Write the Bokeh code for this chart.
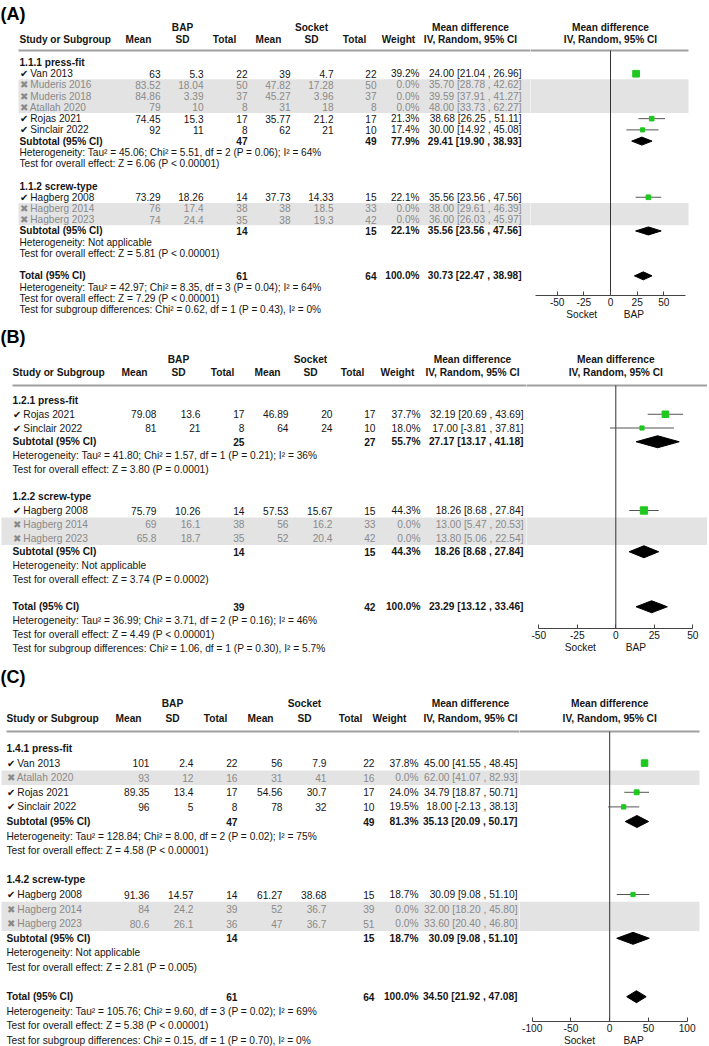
from bokeh.plotting import figure
from bokeh.layouts import column, row
from bokeh.models import Range1d, FixedTicker, LinearAxis
from bokeh.embed import file_html
from bokeh.resources import INLINE
from bokeh.core.properties import value

FONT = "Liberation Sans"

# ---------------- Panel A data ----------------
A_group_names = ["1.1.1 press-fit", "1.1.2 screw-type"]
A_studies = ["Van 2013", "Muderis 2016", "Muderis 2018", "Atallah 2020", "Rojas 2021",
             "Sinclair 2022", "Hagberg 2008", "Hagberg 2014", "Hagberg 2023"]
A_group = [0, 0, 0, 0, 0, 0, 1, 1, 1]
A_included = [True, False, False, False, True, True, True, False, False]
A_bap_mean = [63, 83.52, 84.86, 79, 74.45, 92, 73.29, 76, 74]
A_bap_sd = [5.3, 18.04, 3.39, 10, 15.3, 11, 18.26, 17.4, 24.4]
A_bap_n = [22, 50, 37, 8, 17, 8, 14, 38, 35]
A_sock_mean = [39, 47.82, 45.27, 31, 35.77, 62, 37.73, 38, 38]
A_sock_sd = [4.7, 17.28, 3.96, 18, 21.2, 21, 14.33, 18.5, 19.3]
A_sock_n = [22, 50, 37, 8, 17, 10, 15, 33, 42]
A_weight = [39.2, 0.0, 0.0, 0.0, 21.3, 17.4, 22.1, 0.0, 0.0]
A_md = [24.00, 35.70, 39.59, 48.00, 38.68, 30.00, 35.56, 38.00, 36.00]
A_lo = [21.04, 28.78, 37.91, 33.73, 26.25, 14.92, 23.56, 29.61, 26.03]
A_hi = [26.96, 42.62, 41.27, 62.27, 51.11, 45.08, 47.56, 46.39, 45.97]
A_sub_bap_n = [47, 14]
A_sub_sock_n = [49, 15]
A_sub_weight = [77.9, 22.1]
A_sub_md = [29.41, 35.56]
A_sub_lo = [19.90, 23.56]
A_sub_hi = [38.93, 47.56]
A_sub_het = ["Tau² = 45.06; Chi² = 5.51, df = 2 (P = 0.06); I² = 64%", "Not applicable"]
A_sub_z = ["Z = 6.06 (P < 0.00001)", "Z = 5.81 (P < 0.00001)"]
A_tot_n = [61, 64]
A_tot_weight = 100.0
A_tot_md = 30.73
A_tot_lo = 22.47
A_tot_hi = 38.98
A_tot_het = "Tau² = 42.97; Chi² = 8.35, df = 3 (P = 0.04); I² = 64%"
A_tot_z = "Z = 7.29 (P < 0.00001)"
A_subgroup_test = "Chi² = 0.62, df = 1 (P = 0.43), I² = 0%"
A_ticks = [-50, -25, 0, 25, 50]

# ---------------- Panel B data ----------------
B_group_names = ["1.2.1 press-fit", "1.2.2 screw-type"]
B_studies = ["Rojas 2021", "Sinclair 2022", "Hagberg 2008", "Hagberg 2014", "Hagberg 2023"]
B_group = [0, 0, 1, 1, 1]
B_included = [True, True, True, False, False]
B_bap_mean = [79.08, 81, 75.79, 69, 65.8]
B_bap_sd = [13.6, 21, 10.26, 16.1, 18.7]
B_bap_n = [17, 8, 14, 38, 35]
B_sock_mean = [46.89, 64, 57.53, 56, 52]
B_sock_sd = [20, 24, 15.67, 16.2, 20.4]
B_sock_n = [17, 10, 15, 33, 42]
B_weight = [37.7, 18.0, 44.3, 0.0, 0.0]
B_md = [32.19, 17.00, 18.26, 13.00, 13.80]
B_lo = [20.69, -3.81, 8.68, 5.47, 5.06]
B_hi = [43.69, 37.81, 27.84, 20.53, 22.54]
B_sub_bap_n = [25, 14]
B_sub_sock_n = [27, 15]
B_sub_weight = [55.7, 44.3]
B_sub_md = [27.17, 18.26]
B_sub_lo = [13.17, 8.68]
B_sub_hi = [41.18, 27.84]
B_sub_het = ["Tau² = 41.80; Chi² = 1.57, df = 1 (P = 0.21); I² = 36%", "Not applicable"]
B_sub_z = ["Z = 3.80 (P = 0.0001)", "Z = 3.74 (P = 0.0002)"]
B_tot_n = [39, 42]
B_tot_weight = 100.0
B_tot_md = 23.29
B_tot_lo = 13.12
B_tot_hi = 33.46
B_tot_het = "Tau² = 36.99; Chi² = 3.71, df = 2 (P = 0.16); I² = 46%"
B_tot_z = "Z = 4.49 (P < 0.00001)"
B_subgroup_test = "Chi² = 1.06, df = 1 (P = 0.30), I² = 5.7%"
B_ticks = [-50, -25, 0, 25, 50]

# ---------------- Panel C data ----------------
C_group_names = ["1.4.1 press-fit", "1.4.2 screw-type"]
C_studies = ["Van 2013", "Atallah 2020", "Rojas 2021", "Sinclair 2022",
             "Hagberg 2008", "Hagberg 2014", "Hagberg 2023"]
C_group = [0, 0, 0, 0, 1, 1, 1]
C_included = [True, False, True, True, True, False, False]
C_bap_mean = [101, 93, 89.35, 96, 91.36, 84, 80.6]
C_bap_sd = [2.4, 12, 13.4, 5, 14.57, 24.2, 26.1]
C_bap_n = [22, 16, 17, 8, 14, 39, 36]
C_sock_mean = [56, 31, 54.56, 78, 61.27, 52, 47]
C_sock_sd = [7.9, 41, 30.7, 32, 38.68, 36.7, 36.7]
C_sock_n = [22, 16, 17, 10, 15, 39, 51]
C_weight = [37.8, 0.0, 24.0, 19.5, 18.7, 0.0, 0.0]
C_md = [45.00, 62.00, 34.79, 18.00, 30.09, 32.00, 33.60]
C_lo = [41.55, 41.07, 18.87, -2.13, 9.08, 18.20, 20.40]
C_hi = [48.45, 82.93, 50.71, 38.13, 51.10, 45.80, 46.80]
C_sub_bap_n = [47, 14]
C_sub_sock_n = [49, 15]
C_sub_weight = [81.3, 18.7]
C_sub_md = [35.13, 30.09]
C_sub_lo = [20.09, 9.08]
C_sub_hi = [50.17, 51.10]
C_sub_het = ["Tau² = 128.84; Chi² = 8.00, df = 2 (P = 0.02); I² = 75%", "Not applicable"]
C_sub_z = ["Z = 4.58 (P < 0.00001)", "Z = 2.81 (P = 0.005)"]
C_tot_n = [61, 64]
C_tot_weight = 100.0
C_tot_md = 34.50
C_tot_lo = 21.92
C_tot_hi = 47.08
C_tot_het = "Tau² = 105.76; Chi² = 9.60, df = 3 (P = 0.02); I² = 69%"
C_tot_z = "Z = 5.38 (P < 0.00001)"
C_subgroup_test = "Chi² = 0.15, df = 1 (P = 0.70), I² = 0%"
C_ticks = [-100, -50, 0, 50, 100]


def bundle(label, P):
    g = globals()
    keys = ["group_names", "studies", "group", "included", "bap_mean", "bap_sd", "bap_n",
            "sock_mean", "sock_sd", "sock_n", "weight", "md", "lo", "hi", "sub_bap_n",
            "sub_sock_n", "sub_weight", "sub_md", "sub_lo", "sub_hi", "sub_het", "sub_z",
            "tot_n", "tot_weight", "tot_md", "tot_lo", "tot_hi", "tot_het", "tot_z",
            "subgroup_test", "ticks"]
    d = {k: g[P + "_" + k] for k in keys}
    d["label"] = label
    return d


PANELS = [bundle("(A)", "A"), bundle("(B)", "B"), bundle("(C)", "C")]

# ---------------- layout (reference-pixel geometry) ----------------
TOTAL_W = 707
SX = 1.0
SY = 1.0
GEOM = [
    dict(top=0, bottom=320, split=530, label_y=13, h1=27, h2=39, line_y=50, y0=62, pitch=11.23,
         left=19, line_x=(18, 688), band_x0=18, axis_y=295, zero=610, ppu=1.066,
         bounds=(-70, 70), sb=(-27, 22), hdr=[138, 182, 224, 268, 311, 354, 398],
         bap_x=182, sock_x=311, md_x=470, right=[160, 203, 247, 290, 333, 376, 419, 521],
         dh=4, fs="10.1px"),
    dict(top=320, bottom=655, split=526, label_y=334, h1=357, h2=370, line_y=383, y0=398,
         pitch=13.75, left=12, line_x=(12, 708), band_x0=1, axis_y=626, zero=615.3, ppu=1.54,
         bounds=(-50, 50), sb=(-23, 13), hdr=[134, 178, 222, 267, 310, 352, 397],
         bap_x=178, sock_x=310, md_x=472, right=[156, 200, 244, 288, 332, 375, 420, 523],
         dh=6, fs="10.2px"),
    dict(top=655, bottom=1044, split=519, label_y=674, h1=701, h2=716, line_y=729, y0=746,
         pitch=14.6, left=6, line_x=(6, 699), band_x0=1, axis_y=1019, zero=609.2, ppu=0.775,
         bounds=(-100, 100), sb=(-39, 31), hdr=[128, 172, 215, 260, 304, 350, 389],
         bap_x=172, sock_x=304, md_x=470, right=[149, 193, 237, 282, 326, 374, 418, 517],
         dh=6, fs="10.2px"),
]

TXT = "#151515"
GREY_TXT = "#8a8a8a"
BAND = "#e3e3e3"
RULE = "#a0a0a0"
GREEN = "#1ec81e"


def fmt(v):
    return f"{v:g}"


def ci(m, lo, hi):
    return f"{m:.2f} [{lo:.2f} , {hi:.2f}]"


def put(p, x, y, t, fs, align="left", bold=False, color=TXT):
    p.text(x=x, y=y, text=t, text_align=align, text_baseline="middle",
           text_font=value(FONT), text_font_size=fs,
           text_font_style="bold" if bold else "normal", text_color=color)


def rows_for(d, g):
    Y = lambda k: g["y0"] + k * g["pitch"]
    study_y = [0.0] * len(d["studies"])
    heads, subs, hets, tests = [], [], [], []
    k = 0
    for gi in range(2):
        heads.append(Y(k)); k += 1
        for i, gr in enumerate(d["group"]):
            if gr == gi:
                study_y[i] = Y(k); k += 1
        subs.append(Y(k)); hets.append(Y(k + 1)); tests.append(Y(k + 2)); k += 4
    tot = [Y(k), Y(k + 1), Y(k + 2), Y(k + 3)]
    return study_y, heads, subs, hets, tests, tot


def bands_for(d, study_y, pitch):
    out = []
    run = []
    for i, inc in enumerate(d["included"]):
        if not inc:
            run.append(study_y[i])
        if (inc or i == len(d["included"]) - 1) and run:
            out.append((min(run) - pitch / 2, max(run) + pitch / 2))
            run = []
    return out


def make_panel(d, g):
    fs = g["fs"]
    Wt = round(g["split"] * SX)
    Wf = TOTAL_W - Wt
    xs = Wt / SX
    Ht = round((g["bottom"] - g["top"]) * SY)
    fh = round((g["axis_y"] - g["top"]) * SY)
    axis_y = g["top"] + fh / SY
    study_y, heads, subs, hets, tests, tot = rows_for(d, g)
    bands = bands_for(d, study_y, g["pitch"])

    # ---------- table ----------
    t = figure(frame_width=Wt, frame_height=Ht, x_range=Range1d(0, xs),
               y_range=Range1d(g["top"] + Ht / SY, g["top"]),
               x_axis_location=None, y_axis_location=None, toolbar_location=None,
               output_backend="svg", min_border=0, outline_line_color=None)
    t.grid.visible = False
    for (b0, b1) in bands:
        t.quad(left=g["band_x0"], right=xs + 2, top=b0, bottom=b1, color=BAND, line_color=None)
    t.segment(x0=[g["line_x"][0]], x1=[xs + 2], y0=[g["line_y"]], y1=[g["line_y"]],
              line_color=RULE, line_width=2)
    t.text(x=[0], y=[g["label_y"]], text=[d["label"]], text_align="left",
           text_baseline="middle", text_font=value(FONT), text_font_size="18px",
           text_font_style="bold", text_color="#000000")
    put(t, [g["bap_x"], g["sock_x"], g["md_x"]], [g["h1"]] * 3,
        ["BAP", "Socket", "Mean difference"], fs, align="center", bold=True)
    put(t, [g["left"]], [g["h2"]], ["Study or Subgroup"], fs, bold=True)
    put(t, g["hdr"] + [g["md_x"]], [g["h2"]] * 8,
        ["Mean", "SD", "Total", "Mean", "SD", "Total", "Weight", "IV, Random, 95% CI"],
        fs, align="center", bold=True)
    put(t, [g["left"]] * 2, heads, d["group_names"], fs, bold=True)

    cols = [TXT if inc else GREY_TXT for inc in d["included"]]
    names = [("✔ " if inc else "✖ ") + s for s, inc in zip(d["studies"], d["included"])]
    put(t, [g["left"]] * len(names), study_y, names, fs, color=cols)
    R = g["right"]
    columns = [
        [fmt(v) for v in d["bap_mean"]], [fmt(v) for v in d["bap_sd"]],
        [fmt(v) for v in d["bap_n"]], [fmt(v) for v in d["sock_mean"]],
        [fmt(v) for v in d["sock_sd"]], [fmt(v) for v in d["sock_n"]],
        [f"{w:.1f}%" for w in d["weight"]],
        [ci(m, lo, hi) for m, lo, hi in zip(d["md"], d["lo"], d["hi"])],
    ]
    for ci_, strs in enumerate(columns):
        put(t, [R[ci_]] * len(strs), study_y, strs, fs, align="right", color=cols)

    # subtotals
    put(t, [g["left"]] * 2, subs, ["Subtotal (95% CI)"] * 2, fs, bold=True)
    put(t, [R[2]] * 2, subs, [fmt(v) for v in d["sub_bap_n"]], fs, align="right", bold=True)
    put(t, [R[5]] * 2, subs, [fmt(v) for v in d["sub_sock_n"]], fs, align="right", bold=True)
    put(t, [R[6]] * 2, subs, [f"{w:.1f}%" for w in d["sub_weight"]], fs, align="right", bold=True)
    put(t, [R[7]] * 2, subs, [ci(m, lo, hi) for m, lo, hi in
                              zip(d["sub_md"], d["sub_lo"], d["sub_hi"])], fs, align="right", bold=True)
    put(t, [g["left"]] * 2, hets, ["Heterogeneity: " + h for h in d["sub_het"]], fs)
    put(t, [g["left"]] * 2, tests, ["Test for overall effect: " + z for z in d["sub_z"]], fs)

    # total
    put(t, [g["left"]], [tot[0]], ["Total (95% CI)"], fs, bold=True)
    put(t, [R[2], R[5], R[6], R[7]], [tot[0]] * 4,
        [fmt(d["tot_n"][0]), fmt(d["tot_n"][1]), f"{d['tot_weight']:.1f}%",
         ci(d["tot_md"], d["tot_lo"], d["tot_hi"])], fs, align="right", bold=True)
    put(t, [g["left"]] * 3, tot[1:],
        ["Heterogeneity: " + d["tot_het"], "Test for overall effect: " + d["tot_z"],
         "Test for subgroup differences: " + d["subgroup_test"]], fs)

    # ---------- forest ----------
    u = lambda px: (px - g["zero"]) / g["ppu"]
    x0, x1 = u(xs), u(xs + Wf / SX)
    f = figure(frame_width=Wf, frame_height=fh, x_range=Range1d(x0, x1),
               y_range=Range1d(axis_y, g["top"]), x_axis_location="below",
               y_axis_location=None, toolbar_location=None, output_backend="svg",
               min_border=0, outline_line_color=None)
    f.grid.visible = False
    for (b0, b1) in bands:
        f.quad(left=x0 - 5, right=u(g["line_x"][1]), top=b0, bottom=b1, color=BAND, line_color=None)
    f.segment(x0=[x0 - 5], x1=[u(g["line_x"][1])], y0=[g["line_y"]], y1=[g["line_y"]],
              line_color=RULE, line_width=2)
    f.segment(x0=[0], x1=[0], y0=[g["line_y"]], y1=[axis_y], line_color="#333333", line_width=1)
    put(f, [0, 0], [g["h1"], g["h2"]], ["Mean difference", "IV, Random, 95% CI"], fs,
        align="center", bold=True)

    inc_idx = [i for i, inc in enumerate(d["included"]) if inc]
    f.segment(x0=[d["lo"][i] for i in inc_idx], x1=[d["hi"][i] for i in inc_idx],
              y0=[study_y[i] for i in inc_idx], y1=[study_y[i] for i in inc_idx],
              line_color="#555555", line_width=1)
    f.scatter(x=[d["md"][i] for i in inc_idx], y=[study_y[i] for i in inc_idx],
              marker="square", size=[2 + 12 * d["weight"][i] / 100 for i in inc_idx],
              fill_color=GREEN, line_color=GREEN)
    dmd = d["sub_md"] + [d["tot_md"]]
    dlo = d["sub_lo"] + [d["tot_lo"]]
    dhi = d["sub_hi"] + [d["tot_hi"]]
    dy = subs + [tot[0]]
    h = g["dh"]
    f.patches(xs=[[lo, m, hi, m] for m, lo, hi in zip(dmd, dlo, dhi)],
              ys=[[y, y - h, y, y + h] for y in dy],
              fill_color="black", line_color="black")

    ax = f.xaxis[0]
    ax.ticker = FixedTicker(ticks=d["ticks"])
    ax.major_label_overrides = {tk: str(tk) for tk in d["ticks"]}
    ax.bounds = g["bounds"]
    ax.major_tick_in = 4
    ax.major_tick_out = 0
    ax.minor_tick_line_color = None
    ax.axis_line_color = "#444444"
    ax.major_tick_line_color = "#444444"
    ax.major_label_text_font = FONT
    ax.major_label_text_font_size = fs
    ax.major_label_text_color = TXT
    ax.major_label_standoff = 2

    ax2 = LinearAxis(ticker=FixedTicker(ticks=list(g["sb"])),
                     major_label_overrides={g["sb"][0]: "Socket", g["sb"][1]: "BAP"},
                     axis_line_color=None, major_tick_line_color=None,
                     minor_tick_line_color=None, major_tick_in=0, major_tick_out=0,
                     major_label_standoff=0, major_label_text_font=FONT,
                     major_label_text_font_size=fs, major_label_text_color=TXT)
    f.add_layout(ax2, "below")
    return row(t, f, spacing=0)


rows = [make_panel(d, g) for d, g in zip(PANELS, GEOM)]
page = column(*rows, spacing=0)

open("out.html", "w").write(file_html(page, INLINE))
